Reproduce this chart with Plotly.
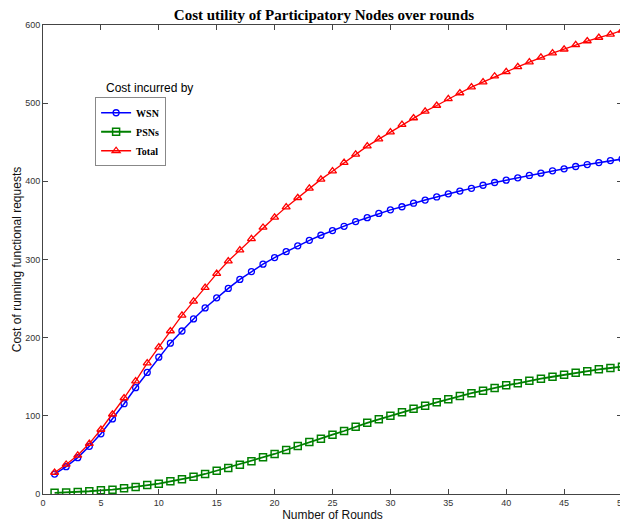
import plotly.graph_objects as go

rounds = list(range(1, 51))

wsn = [25.5, 35, 46.5, 61, 77, 96, 115.5, 136, 155.5, 175,
       193, 208.5, 224, 238, 251, 263, 274.5, 284.5, 294, 302.5,
       310, 317.5, 324.5, 331, 337, 342.5, 348.5, 353.5, 359, 363.5,
       367.5, 372, 376, 380, 384, 387.5, 391, 395, 398.5, 401.5,
       404.5, 407.5, 410.5, 413.5, 416, 419, 421.5, 424, 426.5, 428.5]

psns = [1.5, 2, 2.5, 3.5, 4.7, 5.5, 7.3, 9, 11.5, 13.2,
        16.2, 18.8, 22, 25.6, 29.9, 33.3, 37.5, 42, 46.9, 51.2,
        56.3, 61.4, 66.5, 70.7, 75.9, 80.6, 86, 91, 95.6, 100.2,
        104.5, 109, 113, 117.3, 121.2, 125.4, 128.9, 132.2, 135.7, 139,
        141.6, 145, 147.5, 150, 152.6, 155, 157, 159.5, 161.2, 162.8]

total = [27.5, 37.8, 49.5, 64.5, 82.5, 102, 122.8, 144.5, 167.5, 188,
         208.5, 228.5, 246.5, 264, 282, 298, 312, 326.5, 341, 354,
         367, 379, 391, 402.5, 413, 424, 434.5, 445, 454, 463,
         472.5, 481, 489.5, 497, 505.5, 513, 520.5, 527, 534.5, 540,
         546.5, 552.5, 558.5, 564, 569, 574.5, 579.5, 584, 588, 593]

x_ticks = [0, 5, 10, 15, 20, 25, 30, 35, 40, 45, 50]
y_ticks = [0, 100, 200, 300, 400, 500, 600]

fig = go.Figure()
fig.add_trace(go.Scatter(x=rounds, y=wsn, name="<b>WSN</b>", mode="lines+markers",
                         line=dict(color="#0000ff", width=1.5),
                         marker=dict(symbol="circle-open", size=6, color="#0000ff", line=dict(width=1.3))))
fig.add_trace(go.Scatter(x=rounds, y=psns, name="<b>PSNs</b>", mode="lines+markers",
                         line=dict(color="#008000", width=1.8),
                         marker=dict(symbol="square-open", size=7, color="#008000", line=dict(width=1.5))))
fig.add_trace(go.Scatter(x=rounds, y=total, name="<b>Total</b>", mode="lines+markers",
                         line=dict(color="#ff0000", width=1.3),
                         marker=dict(symbol="triangle-up-open", size=7, color="#ff0000", line=dict(width=1.3))))

axis_common = dict(showgrid=False, zeroline=False, showline=True, linecolor="#444444",
                   linewidth=1, ticks="inside", ticklen=5, tickcolor="#444444",
                   mirror="ticks", tickfont=dict(family="Liberation Sans, Arial", size=9, color="#333333"))

fig.update_xaxes(range=[0, 50], tickvals=x_ticks,
                 title=dict(text="Number of Rounds", font=dict(family="Liberation Sans, Arial", size=12, color="#111111"), standoff=1),
                 **axis_common)
fig.update_yaxes(range=[0, 600], tickvals=y_ticks,
                 title=dict(text="Cost of running functional requests", font=dict(family="Liberation Sans, Arial", size=12, color="#111111"), standoff=0),
                 **axis_common)

fig.update_layout(
    width=628, height=525,
    margin=dict(l=31, r=9, t=17, b=39),
    paper_bgcolor="white", plot_bgcolor="white",
    title=dict(text="<b>Cost utility of Participatory Nodes over rounds</b>",
               font=dict(family="Liberation Serif, Times New Roman", size=15, color="black"),
               x=316 / 628, xref="container", xanchor="center", y=1 - 6.5 / 525, yref="container", yanchor="middle"),
    legend=dict(x=0.09, y=0.846, xanchor="left", yanchor="top",
                bgcolor="white", bordercolor="#888888", borderwidth=1,
                font=dict(family="Liberation Serif, Times New Roman", size=10, color="black"),
                itemwidth=30, tracegroupgap=0),
    annotations=[dict(text="Cost incurred by", xref="paper", yref="paper",
                      x=(147 - 39) / 588, y=1 - (88 - 25) / 469, xanchor="center", yanchor="middle",
                      showarrow=False, font=dict(family="Liberation Sans, Arial", size=12, color="black"))],
    showlegend=True,
)

fig.write_html("out.html")
